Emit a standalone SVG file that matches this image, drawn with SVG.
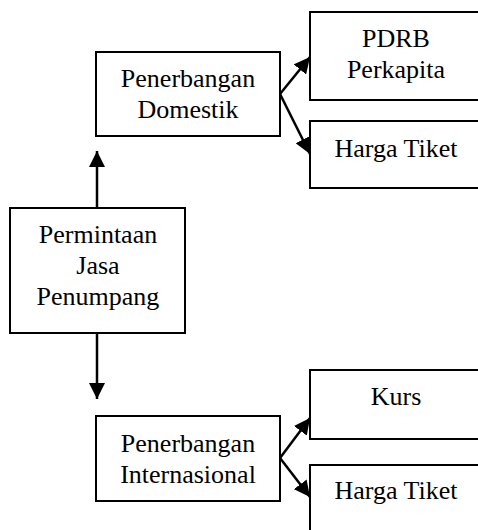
<svg xmlns="http://www.w3.org/2000/svg" width="478" height="530" viewBox="0 0 478 530">
<style>
.box{fill:#fff;stroke:#000;stroke-width:2}
.con{stroke:#000;stroke-width:2.5;fill:none}
text{font-family:'Liberation Serif','Times New Roman',Times,serif;font-size:26px;fill:#000;text-anchor:middle}
</style>
<defs>
<marker id="ah" markerUnits="userSpaceOnUse" markerWidth="16" markerHeight="16" refX="16" refY="8" orient="auto">
<path d="M0,0 L16,8 L0,16 z" fill="#000"/>
</marker>
</defs>
<rect width="478" height="530" fill="#fff"/>
<g id="connectors">
<line class="con" x1="97" y1="208" x2="97" y2="151" marker-end="url(#ah)"/>
<line class="con" x1="97" y1="333" x2="97" y2="399" marker-end="url(#ah)"/>
<line class="con" x1="280" y1="94" x2="310" y2="57" marker-end="url(#ah)"/>
<line class="con" x1="280" y1="94" x2="310" y2="154" marker-end="url(#ah)"/>
<line class="con" x1="280" y1="458" x2="310" y2="418" marker-end="url(#ah)"/>
<line class="con" x1="280" y1="458" x2="310" y2="497" marker-end="url(#ah)"/>
</g>
<g id="permintaan" font-family="Liberation Serif, serif">
<rect class="box" x="10" y="208" width="175" height="125"/>
<text x="98" y="243">Permintaan</text>
<text x="98" y="274">Jasa</text>
<text x="98" y="305">Penumpang</text>
</g>
<g id="domestik">
<rect class="box" x="96" y="52" width="184" height="84"/>
<text x="188" y="87">Penerbangan</text>
<text x="188" y="118">Domestik</text>
</g>
<g id="pdrb">
<rect class="box" x="310" y="12" width="200" height="88"/>
<text x="396" y="47">PDRB</text>
<text x="396" y="78">Perkapita</text>
</g>
<g id="harga1">
<rect class="box" x="310" y="121" width="200" height="67"/>
<text x="396" y="157">Harga Tiket</text>
</g>
<g id="internasional">
<rect class="box" x="96" y="416" width="184" height="85"/>
<text x="188" y="452">Penerbangan</text>
<text x="188" y="483">Internasional</text>
</g>
<g id="kurs">
<rect class="box" x="310" y="370" width="200" height="69"/>
<text x="396" y="405">Kurs</text>
</g>
<g id="harga2">
<rect class="box" x="310" y="465" width="200" height="80"/>
<text x="396" y="499">Harga Tiket</text>
</g>
</svg>
